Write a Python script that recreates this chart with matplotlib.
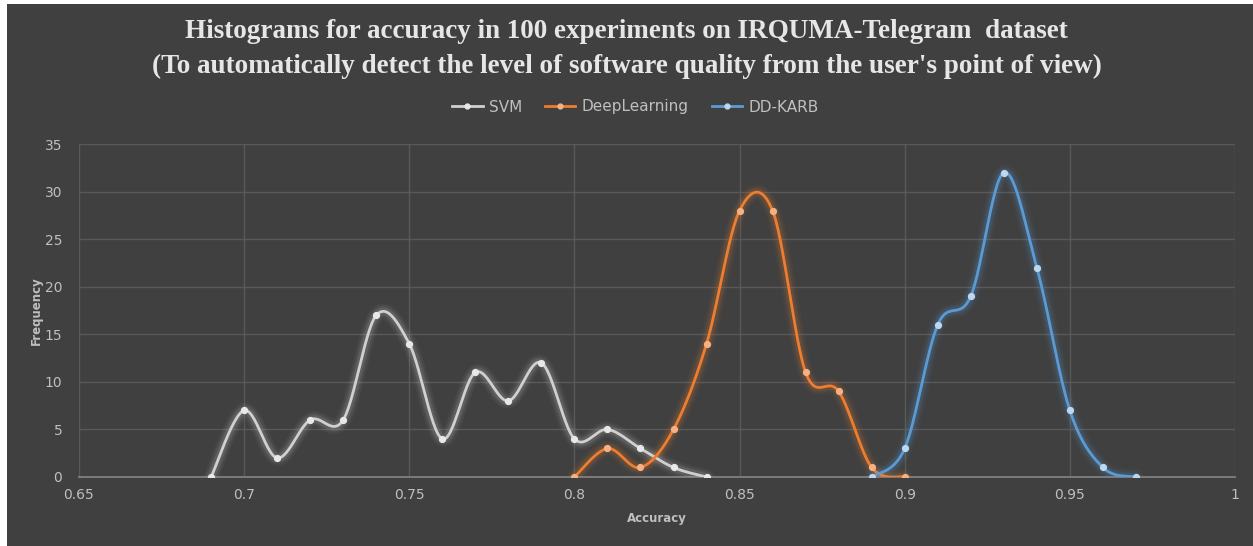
import numpy as np
import matplotlib
matplotlib.use("Agg")
import matplotlib.pyplot as plt

# frequencies (100 experiments per method)
svm_x = [0.69, 0.70, 0.71, 0.72, 0.73, 0.74, 0.75, 0.76, 0.77, 0.78, 0.79, 0.80, 0.81, 0.82, 0.83, 0.84]
svm_y = [0, 7, 2, 6, 6, 17, 14, 4, 11, 8, 12, 4, 5, 3, 1, 0]

dl_x = [0.80, 0.81, 0.82, 0.83, 0.84, 0.85, 0.86, 0.87, 0.88, 0.89, 0.90]
dl_y = [0, 3, 1, 5, 14, 28, 28, 11, 9, 1, 0]

dd_x = [0.89, 0.90, 0.91, 0.92, 0.93, 0.94, 0.95, 0.96, 0.97]
dd_y = [0, 3, 16, 19, 32, 22, 7, 1, 0]

names = ["SVM", "DeepLearning", "DD-KARB"]
colors = ["#D0D0D0", "#ED7D31", "#5B9BD5"]
marker_fc = ["#E8E8E8", "#F4B183", "#BDD7EE"]

BG = "#404040"
TXT = "#BFBFBF"


def smooth(xs, ys, n=30):
    """excel-like smoothed line: bezier segments with catmull-rom controls"""
    p = np.column_stack([xs, ys]).astype(float)
    ext = np.vstack([p[0], p, p[-1]])
    out = []
    t = np.linspace(0, 1, n)[:, None]
    for i in range(len(p) - 1):
        p0, p1, p2, p3 = ext[i], ext[i + 1], ext[i + 2], ext[i + 3]
        c1 = p1 + (p2 - p0) / 6
        c2 = p2 - (p3 - p1) / 6
        seg = ((1 - t) ** 3) * p1 + 3 * ((1 - t) ** 2) * t * c1 + 3 * (1 - t) * t ** 2 * c2 + t ** 3 * p2
        out.append(seg)
    out = np.vstack(out)
    return out[:, 0], out[:, 1]


fig = plt.figure(figsize=(12.53, 5.46), dpi=100)
fig.patch.set_facecolor("white")
fig.add_artist(plt.Rectangle((7 / 1253, 0), 1 - 7 / 1253, 1 - 4 / 546,
                             transform=fig.transFigure, facecolor=BG, edgecolor="none", zorder=-10))

ax = fig.add_axes([79 / 1253, 1 - 477 / 546, (1235 - 79) / 1253, (477 - 144) / 546])
ax.set_facecolor(BG)

series = [(svm_x, svm_y), (dl_x, dl_y), (dd_x, dd_y)]
handles = []
for (xs, ys), name, c, mfc in zip(series, names, colors, marker_fc):
    sx, sy = smooth(xs, ys)
    # glow
    for lw, a in [(11, 0.05), (8, 0.07), (5.5, 0.12)]:
        ax.plot(sx, sy, color=c, lw=lw, alpha=a, solid_capstyle="round", zorder=3)
    ax.plot(sx, sy, color=c, lw=2, zorder=4)
    ax.plot(xs, ys, "o", ms=4.2, mfc=mfc, mec=mfc, zorder=5)
    h, = ax.plot([], [], color=c, lw=2, marker="o", ms=3.5, mfc=mfc, mec=mfc, label=name)
    handles.append(h)

ax.set_xlim(0.65, 1.0)
ax.set_ylim(0, 35)
ax.set_xticks(np.arange(0.65, 1.0001, 0.05))
ax.set_xticklabels(["0.65", "0.7", "0.75", "0.8", "0.85", "0.9", "0.95", "1"])
ax.set_yticks(range(0, 36, 5))
ax.grid(True, color="#595959", lw=1)
ax.set_axisbelow(True)
for s in ["top", "right", "left"]:
    ax.spines[s].set_visible(False)
ax.spines["bottom"].set_color("#808080")
ax.spines["bottom"].set_linewidth(1.3)
ax.tick_params(length=0, colors=TXT, labelsize=10)
ax.tick_params(axis="x", pad=8)
ax.tick_params(axis="y", pad=12)

ax.set_xlabel("Accuracy", color=TXT, fontsize=8.5, fontweight="bold", labelpad=7)
ax.set_ylabel("Frequency", color=TXT, fontsize=8.5, fontweight="bold", labelpad=1)

fig.text(0.5, 1 - 32 / 546, "Histograms for accuracy in 100 experiments on IRQUMA-Telegram  dataset",
         ha="center", va="center", color="#E6E6E6", fontsize=19.5, fontweight="bold",
         family="Liberation Serif")
fig.text(0.5, 1 - 66 / 546, "(To automatically detect the level of software quality from the user's point of view)",
         ha="center", va="center", color="#E6E6E6", fontsize=19.5, fontweight="bold",
         family="Liberation Serif")

leg = fig.legend(handles=handles, loc="center", bbox_to_anchor=(0.507, 1 - 107 / 546), ncol=3,
                 frameon=False, fontsize=11, handlelength=2.0, columnspacing=1.5, handletextpad=0.4)
for t in leg.get_texts():
    t.set_color(TXT)

fig.savefig("out.png", dpi=100, facecolor=fig.get_facecolor())
